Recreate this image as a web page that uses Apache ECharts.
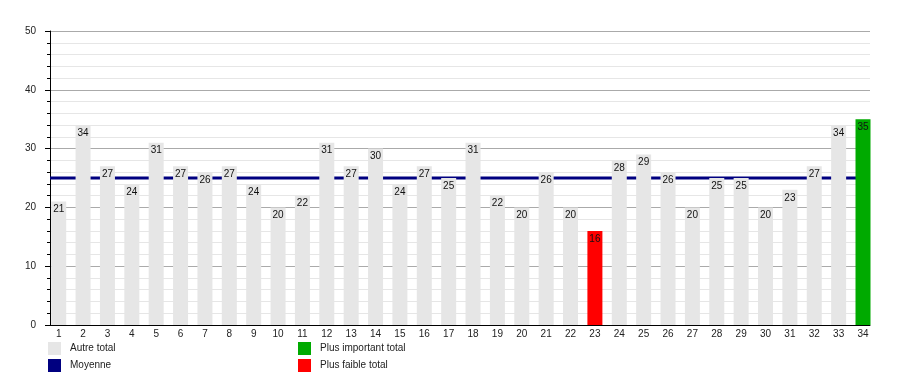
<!DOCTYPE html>
<html><head><meta charset="utf-8">
<script src="https://cdn.jsdelivr.net/npm/echarts@6/dist/echarts.min.js"></script>
<style>html,body{margin:0;padding:0;background:#fff}#c{width:900px;height:375px}</style>
</head><body><div id="c"></div><script>
const categories = [1,2,3,4,5,6,7,8,9,10,11,12,13,14,15,16,17,18,19,20,21,22,23,24,25,26,27,28,29,30,31,32,33,34];
const totals = [21,34,27,24,31,27,26,27,24,20,22,31,27,30,24,27,25,31,22,20,26,20,16,28,29,26,20,25,25,20,23,27,34,35];
const moyenne = [25];
const yTicks = [0,10,20,30,40,50];
const legendNames = ['Autre total','Moyenne','Plus important total','Plus faible total'];

const maxV = Math.max(...totals), minV = Math.min(...totals);
const pick = (f) => categories.map((c,i) => [c, f(totals[i]) ? totals[i] : '-']);
const otherData = pick(v => v !== maxV && v !== minV);
const maxData = pick(v => v === maxV);
const minData = pick(v => v === minV);

const XMIN = 0.643, XMAX = 34.287;
const FONT = 'Liberation Sans, Arial, sans-serif';
const labelCfg = {show:true, position:'insideTop', distance:3, fontSize:10, color:'#111', fontFamily:FONT};

const chart = echarts.init(document.getElementById('c'));
chart.setOption({
  animation:false,
  backgroundColor:'#fff',
  textStyle:{fontFamily:FONT},
  grid:{left:50, right:30, top:31, bottom:50},
  legend:[
    {left:48, top:342, orient:'vertical', padding:0, itemGap:4, itemWidth:13, itemHeight:13, icon:'rect',
     data:[legendNames[0], legendNames[1]], selectedMode:false,
     textStyle:{fontSize:10, color:'#222', fontFamily:FONT, padding:[3,0,0,4]}},
    {left:298, top:342, orient:'vertical', padding:0, itemGap:4, itemWidth:13, itemHeight:13, icon:'rect',
     data:[legendNames[2], legendNames[3]], selectedMode:false,
     textStyle:{fontSize:10, color:'#222', fontFamily:FONT, padding:[3,0,0,4]}}
  ],
  xAxis:{
    type:'value', min:XMIN, max:XMAX,
    axisLine:{show:true, lineStyle:{color:'#000', width:1}},
    axisTick:{show:false},
    splitLine:{show:false},
    axisLabel:{customValues:categories, fontSize:10, color:'#222', margin:4, fontFamily:FONT,
      formatter:(v)=>String(Math.round(v))}
  },
  yAxis:{
    type:'value', min:yTicks[0], max:yTicks[yTicks.length-1], interval:10,
    axisLine:{show:true, lineStyle:{color:'#000', width:1}},
    axisTick:{show:true, length:5, lineStyle:{color:'#000'}},
    minorTick:{show:true, splitNumber:5, length:3, lineStyle:{color:'#000'}},
    splitLine:{show:true, lineStyle:{color:'#aaa', width:1}},
    minorSplitLine:{show:true, lineStyle:{color:'#e6e6e6', width:1}},
    axisLabel:{fontSize:10, color:'#222', margin:14, fontFamily:FONT}
  },
  series:[
    {name:legendNames[1], type:'line', z:1, symbol:'none', silent:true,
     data:[[XMIN, moyenne[0]],[XMAX, moyenne[0]]],
     lineStyle:{color:'#000080', width:3}, itemStyle:{color:'#000080'}},
    {name:legendNames[0], type:'bar', stack:'t', z:2, barWidth:15, data:otherData,
     itemStyle:{color:'#e6e6e6'}, label:labelCfg},
    {name:legendNames[2], type:'bar', stack:'t', z:2, barWidth:15, data:maxData,
     itemStyle:{color:'#00aa00'}, label:labelCfg},
    {name:legendNames[3], type:'bar', stack:'t', z:2, barWidth:15, data:minData,
     itemStyle:{color:'#ff0000'}, label:labelCfg}
  ]
});
</script></body></html>
